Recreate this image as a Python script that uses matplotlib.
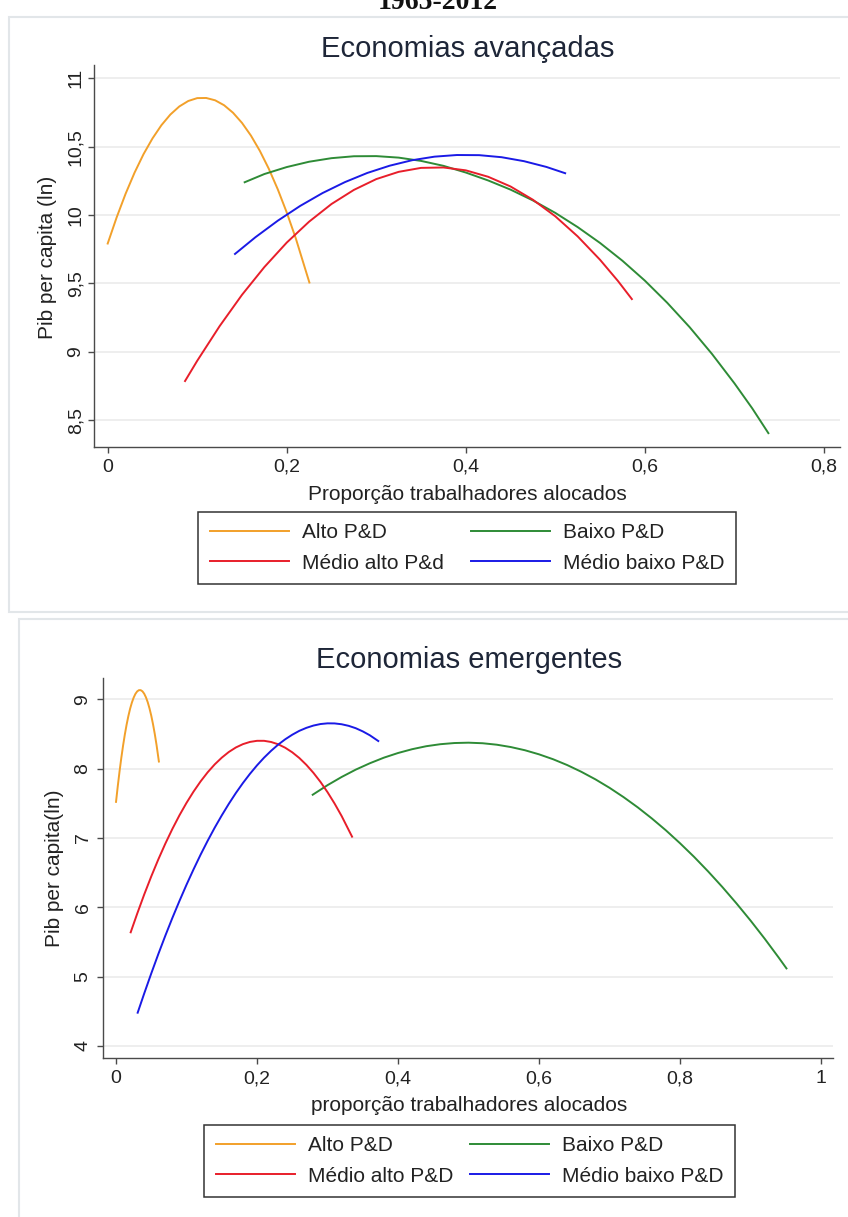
import matplotlib.pyplot as plt
from matplotlib.patches import Rectangle

# Economias avançadas - fitted curves
adv_alto_x = [0, 0.01, 0.02, 0.03, 0.04, 0.05, 0.06, 0.07, 0.08, 0.09, 0.10, 0.11,
              0.12, 0.13, 0.14, 0.15, 0.16, 0.17, 0.18, 0.19, 0.20, 0.21, 0.2253]
adv_alto_y = [9.792, 9.983, 10.156, 10.310, 10.445, 10.560, 10.657, 10.735, 10.794, 10.834, 10.855, 10.856,
              10.839, 10.803, 10.748, 10.674, 10.581, 10.469, 10.338, 10.188, 10.019, 9.832, 9.507]

adv_baixo_x = [0.153, 0.175, 0.20, 0.225, 0.25, 0.275, 0.30, 0.325, 0.35, 0.375, 0.40, 0.425,
               0.45, 0.475, 0.50, 0.525, 0.55, 0.575, 0.60, 0.625, 0.65, 0.675, 0.70, 0.72, 0.738]
adv_baixo_y = [10.24, 10.30, 10.351, 10.39, 10.416, 10.43, 10.431, 10.42, 10.396, 10.36, 10.311, 10.253,
               10.186, 10.107, 10.016, 9.912, 9.796, 9.666, 9.521, 9.359, 9.181, 8.985, 8.771, 8.587, 8.406]

adv_medalto_x = [0.0864, 0.10, 0.125, 0.15, 0.175, 0.20, 0.225, 0.25, 0.275, 0.30, 0.325, 0.35,
                 0.375, 0.40, 0.425, 0.45, 0.475, 0.50, 0.525, 0.55, 0.57, 0.5855]
adv_medalto_y = [8.787, 8.935, 9.188, 9.417, 9.620, 9.799, 9.952, 10.081, 10.184, 10.263, 10.316, 10.345,
                 10.348, 10.327, 10.280, 10.209, 10.112, 9.991, 9.844, 9.673, 9.518, 9.386]

adv_medbaixo_x = [0.1422, 0.165, 0.19, 0.215, 0.24, 0.265, 0.29, 0.315, 0.34, 0.365, 0.39, 0.415,
                  0.44, 0.465, 0.49, 0.511]
adv_medbaixo_y = [9.716, 9.838, 9.959, 10.067, 10.161, 10.241, 10.308, 10.361, 10.401, 10.427, 10.439, 10.438,
                  10.423, 10.394, 10.352, 10.306]

# Economias emergentes
emg_alto_x = [0, 0.0025, 0.005, 0.0075, 0.01, 0.0125, 0.015, 0.0175, 0.02, 0.0225, 0.025, 0.0275, 0.03,
              0.0325, 0.035, 0.0375, 0.04, 0.0425, 0.045, 0.0475, 0.05, 0.0525, 0.055, 0.0575, 0.0608]
emg_alto_y = [7.52, 7.748, 7.96, 8.155, 8.332, 8.492, 8.634, 8.758, 8.865, 8.953, 9.024, 9.078, 9.114,
              9.132, 9.132, 9.115, 9.080, 9.027, 8.957, 8.868, 8.763, 8.639, 8.498, 8.339, 8.102]

emg_baixo_x = [0.279, 0.30, 0.32, 0.34, 0.36, 0.38, 0.40, 0.42, 0.44, 0.46, 0.48, 0.50, 0.52, 0.54,
               0.56, 0.58, 0.60, 0.62, 0.64, 0.66, 0.68, 0.70, 0.72, 0.74, 0.76, 0.78, 0.80, 0.82,
               0.84, 0.86, 0.88, 0.90, 0.92, 0.94, 0.951]
emg_baixo_y = [7.623, 7.761, 7.879, 7.985, 8.077, 8.158, 8.225, 8.280, 8.323, 8.352, 8.369, 8.374, 8.366, 8.345,
               8.311, 8.265, 8.206, 8.135, 8.051, 7.954, 7.845, 7.723, 7.588, 7.441, 7.281, 7.109, 6.923, 6.726,
               6.515, 6.292, 6.056, 5.808, 5.547, 5.273, 5.117]

emg_medalto_x = [0.0208, 0.03, 0.04, 0.05, 0.06, 0.07, 0.08, 0.09, 0.10, 0.11, 0.12, 0.13, 0.14, 0.15,
                 0.16, 0.17, 0.18, 0.19, 0.20, 0.21, 0.22, 0.23, 0.24, 0.25, 0.26, 0.27, 0.28, 0.29,
                 0.30, 0.31, 0.32, 0.3348]
emg_medalto_y = [5.638, 5.906, 6.184, 6.445, 6.690, 6.919, 7.131, 7.327, 7.506, 7.669, 7.816, 7.947, 8.061, 8.158,
                 8.240, 8.305, 8.353, 8.385, 8.401, 8.401, 8.384, 8.351, 8.301, 8.235, 8.153, 8.054, 7.939, 7.808,
                 7.660, 7.496, 7.316, 7.018]

emg_medbaixo_x = [0.0307, 0.04, 0.05, 0.06, 0.07, 0.08, 0.09, 0.10, 0.11, 0.12, 0.13, 0.14, 0.15, 0.16,
                  0.17, 0.18, 0.19, 0.20, 0.21, 0.22, 0.23, 0.24, 0.25, 0.26, 0.27, 0.28, 0.29, 0.30,
                  0.31, 0.32, 0.33, 0.34, 0.35, 0.36, 0.372]
emg_medbaixo_y = [4.478, 4.756, 5.045, 5.324, 5.591, 5.847, 6.091, 6.325, 6.547, 6.759, 6.959, 7.148, 7.325, 7.492,
                  7.648, 7.792, 7.925, 8.047, 8.158, 8.257, 8.346, 8.423, 8.489, 8.545, 8.588, 8.621, 8.643, 8.653,
                  8.652, 8.640, 8.617, 8.583, 8.537, 8.481, 8.398]

adv_xticks = [0, 0.2, 0.4, 0.6, 0.8]
adv_yticks = [8.5, 9, 9.5, 10, 10.5, 11]
emg_xticks = [0, 0.2, 0.4, 0.6, 0.8, 1]
emg_yticks = [4, 5, 6, 7, 8, 9]

c_alto = '#F2A02A'
c_baixo = '#2E8B36'
c_medalto = '#E81E2A'
c_medbaixo = '#1A1AE6'

plt.rcParams['font.family'] = ['Liberation Sans', 'DejaVu Sans']

W, H = 848, 1217
fig = plt.figure(figsize=(W / 100, H / 100), dpi=100)

def fx(px):
  return px / W

def fy(py):
  return 1 - py / H

def comma(v):
  return ('%g' % v).replace('.', ',')

# panel frames (behind the axes)
fig.patches.append(Rectangle((fx(9), fy(612)), fx(860), 595 / H, transform=fig.transFigure,
                             facecolor='white', edgecolor='#E2E6E9', lw=1.5, zorder=-10))
fig.patches.append(Rectangle((fx(19), fy(1230)), fx(860), 611 / H, transform=fig.transFigure,
                             facecolor='white', edgecolor='#E2E6E9', lw=1.5, zorder=-10))

# heading cropped at the very top, as in the source image
fig.text(fx(438), fy(9), '1965-2012', ha='center', va='baseline', fontsize=20,
         fontweight='bold', family='Liberation Serif', color='#111111')


def style_axes(ax, xticks, yticks, ypad):
  ax.set_facecolor('none')
  for s in ['top', 'right']:
    ax.spines[s].set_visible(False)
  for s in ['left', 'bottom']:
    ax.spines[s].set_color('#4A4A4A')
    ax.spines[s].set_linewidth(1.0)
  ax.set_xticks(xticks)
  ax.set_xticklabels([comma(v) for v in xticks])
  ax.set_yticks(yticks)
  ax.set_yticklabels([comma(v) for v in yticks], rotation=90, va='center')
  ax.tick_params(axis='both', colors='#4A4A4A', length=4.5, width=1.0, labelsize=14,
                 labelcolor='#222222')
  ax.tick_params(axis='x', pad=4)
  ax.tick_params(axis='y', pad=ypad)
  ax.yaxis.grid(True, color='#EBEBEB', lw=1.2)
  ax.set_axisbelow(True)


def add_legend(labels, handles, box):
  x0, y0, x1, y1 = box
  leg = fig.legend(handles, labels, ncol=2, loc='center', mode='expand',
                   bbox_to_anchor=(fx(x0), fy(y1), fx(x1 - x0), (y1 - y0) / H),
                   fontsize=15, frameon=True, fancybox=False, framealpha=1,
                   handlelength=3.8, handletextpad=0.6, columnspacing=1.7,
                   labelspacing=0.55, borderpad=0.55)
  leg.get_frame().set_edgecolor('#333333')
  leg.get_frame().set_linewidth(1.1)
  for t in leg.get_texts():
    t.set_color('#222222')


# ---- Economias avançadas
ax1 = fig.add_axes([fx(94), fy(446.7), fx(746), 381.7 / H])
l1, = ax1.plot(adv_alto_x, adv_alto_y, color=c_alto, lw=1.4)
l2, = ax1.plot(adv_baixo_x, adv_baixo_y, color=c_baixo, lw=1.4)
l3, = ax1.plot(adv_medalto_x, adv_medalto_y, color=c_medalto, lw=1.4)
l4, = ax1.plot(adv_medbaixo_x, adv_medbaixo_y, color=c_medbaixo, lw=1.4)
ax1.set_xlim(-0.0153, 0.818)
ax1.set_ylim(8.307, 11.097)
style_axes(ax1, adv_xticks, adv_yticks, 2.5)

fig.text(fx(468), fy(57), 'Economias avançadas', ha='center', va='baseline', fontsize=21, color='#1E2638')
fig.text(fx(467), fy(500), 'Proporção trabalhadores alocados', ha='center', va='baseline', fontsize=15, color='#222222')
fig.text(fx(48), fy(257), 'Pib per capita (ln)', ha='center', va='center', rotation=90, fontsize=15, color='#222222')
add_legend(['Alto P&D', 'Médio alto P&d', 'Baixo P&D', 'Médio baixo P&D'], [l1, l3, l2, l4],
           (188, 513, 746, 583))

# ---- Economias emergentes
ax2 = fig.add_axes([fx(102.7), fy(1058.3), fx(730.3), 380 / H])
m1, = ax2.plot(emg_alto_x, emg_alto_y, color=c_alto, lw=1.4)
m2, = ax2.plot(emg_baixo_x, emg_baixo_y, color=c_baixo, lw=1.4)
m3, = ax2.plot(emg_medalto_x, emg_medalto_y, color=c_medalto, lw=1.4)
m4, = ax2.plot(emg_medbaixo_x, emg_medbaixo_y, color=c_medbaixo, lw=1.4)
ax2.set_xlim(-0.0189, 1.017)
ax2.set_ylim(3.82, 9.303)
style_axes(ax2, emg_xticks, emg_yticks, 3.5)

fig.text(fx(469), fy(668), 'Economias emergentes', ha='center', va='baseline', fontsize=21, color='#1E2638')
fig.text(fx(469), fy(1111), 'proporção trabalhadores alocados', ha='center', va='baseline', fontsize=15, color='#222222')
fig.text(fx(55), fy(868), 'Pib per capita(ln)', ha='center', va='center', rotation=90, fontsize=15, color='#222222')
add_legend(['Alto P&D', 'Médio alto P&D', 'Baixo P&D', 'Médio baixo P&D'], [m1, m3, m2, m4],
           (194, 1127, 745, 1195))

plt.savefig('out.png', dpi=100)
